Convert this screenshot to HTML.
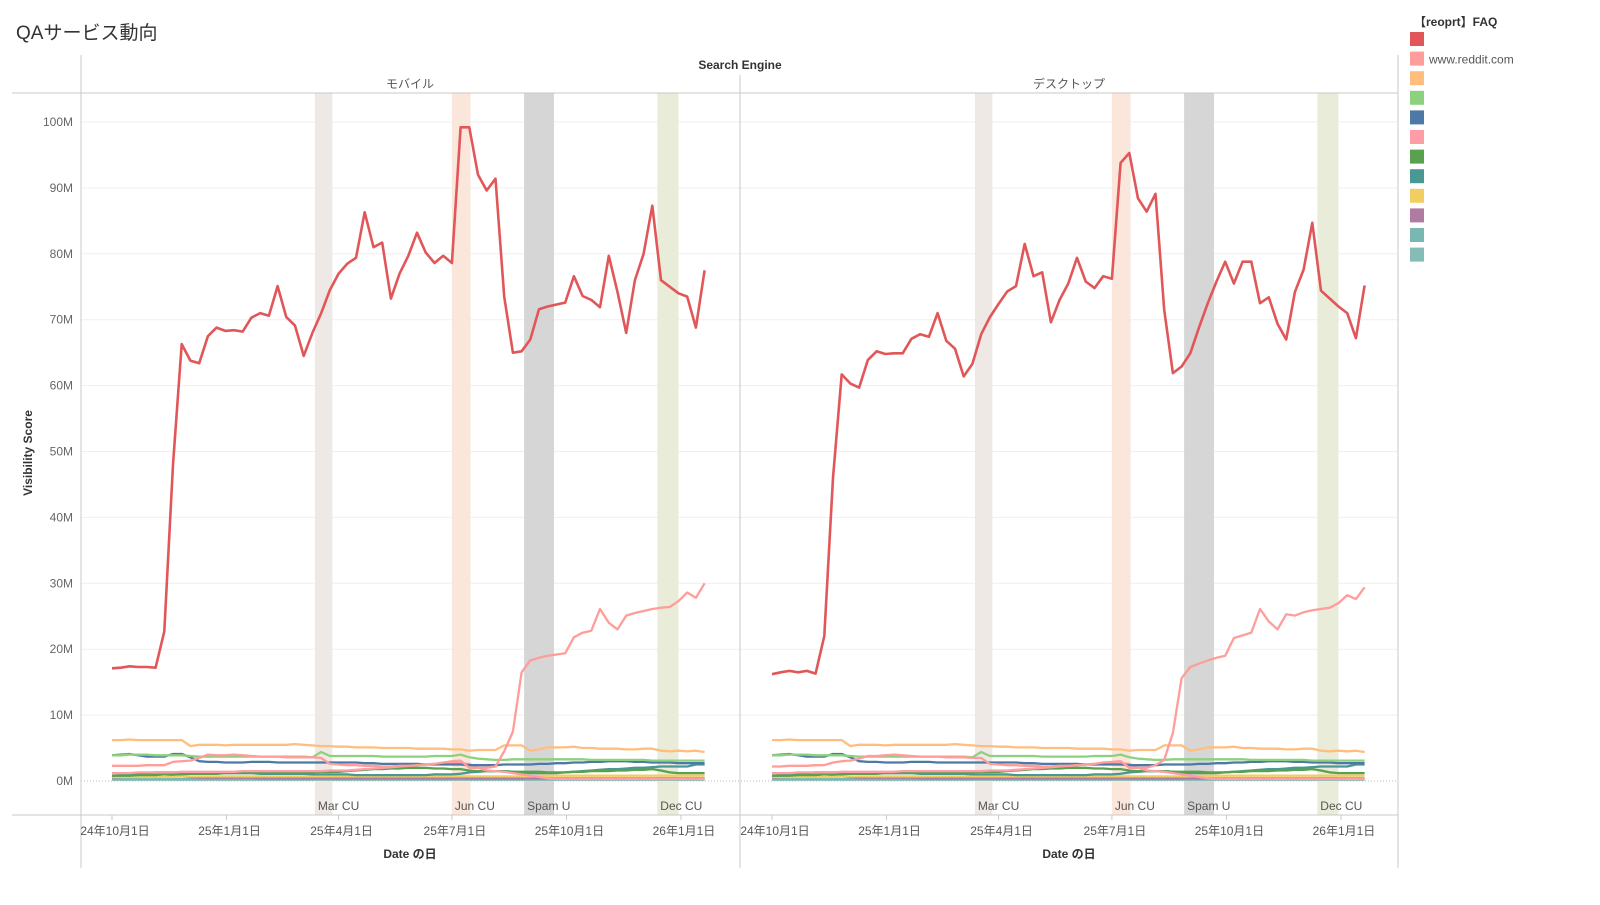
<!DOCTYPE html>
<html><head><meta charset="utf-8"><style>
body{margin:0;background:#fff;width:1600px;height:900px;overflow:hidden;font-family:"Liberation Sans","Noto Sans CJK JP",sans-serif}
svg text{font-family:"Liberation Sans","Noto Sans CJK JP",sans-serif}
</style></head><body>
<svg id="chart" width="1600" height="900" xmlns="http://www.w3.org/2000/svg">
<text x="16" y="39" font-size="19" fill="#333">QAサービス動向</text>
<text x="740" y="69" font-size="12" font-weight="bold" text-anchor="middle" fill="#333">Search Engine</text>
<text x="410" y="88" font-size="12" text-anchor="middle" fill="#555">モバイル</text>
<text x="1069" y="88" font-size="12" text-anchor="middle" fill="#555">デスクトップ</text>
<text transform="translate(32,453) rotate(-90)" font-size="12" font-weight="bold" text-anchor="middle" fill="#333">Visibility Score</text>
<g id="grid"></g>
<g id="bands"></g>
<g id="series"></g>
<g id="frame">
<line x1="12" y1="93" x2="1398" y2="93" stroke="#c8c8c8"/>
<line x1="12" y1="815" x2="1398" y2="815" stroke="#c8c8c8"/>
<line x1="81" y1="55" x2="81" y2="868" stroke="#c8c8c8"/>
<line x1="740" y1="75" x2="740" y2="868" stroke="#c8c8c8"/>
<line x1="1398" y1="55" x2="1398" y2="868" stroke="#c8c8c8"/>
</g>
<g id="axes"></g>
<text x="410" y="858" font-size="12" font-weight="bold" text-anchor="middle" fill="#333">Date の日</text>
<text x="1069" y="858" font-size="12" font-weight="bold" text-anchor="middle" fill="#333">Date の日</text>
<g id="legend">
<text x="1414" y="26" font-size="12" font-weight="bold" fill="#333">【reoprt】FAQ</text>
</g>
</svg>
<script>
const yTicks=[0,10,20,30,40,50,60,70,80,90,100];
const xTickDays=[0,92,182,273,365,457];
const xTickLabels=["24年10月1日","25年1月1日","25年4月1日","25年7月1日","25年10月1日","26年1月1日"];
const bandStart=[163,273,331,438];
const bandEnd=[177,288,355,455];
const bandLabels=["Mar CU","Jun CU","Spam U","Dec CU"];
const bandColors=["#efe9e6","#fbe6dc","#d6d6d6","#e8ecd9"];
const mobileRed=[17.1,17.2,17.4,17.3,17.3,17.2,22.7,48,66.3,63.8,63.4,67.5,68.8,68.3,68.4,68.2,70.3,71.0,70.6,75.1,70.4,69.1,64.5,68,71,74.5,77,78.5,79.4,86.3,81,81.7,73.2,77,79.7,83.2,80.2,78.6,79.7,78.6,99.2,99.2,92,89.6,91.4,73.5,65,65.2,67,71.6,72,72.3,72.6,76.6,73.6,73,71.9,79.7,74.2,68,76,80,87.3,76,75,74,73.5,68.8,77.5];
const desktopRed=[16.2,16.5,16.7,16.5,16.7,16.3,22,46,61.7,60.3,59.7,63.9,65.2,64.8,64.9,64.9,67.1,67.8,67.4,71,66.8,65.6,61.4,63.3,67.8,70.4,72.4,74.3,75.1,81.5,76.6,77.2,69.6,73,75.5,79.4,75.8,74.8,76.6,76.2,93.8,95.3,88.4,86.4,89.1,71.5,61.9,62.9,64.9,68.8,72.5,75.8,78.8,75.5,78.8,78.8,72.5,73.4,69.4,67,74.2,77.6,84.7,74.4,73.2,72,71,67.2,75.2];
const mobileReddit=[2.3,2.3,2.3,2.3,2.4,2.4,2.4,2.9,3.0,3.1,3.5,4.0,3.9,3.9,4.0,3.9,3.8,3.7,3.7,3.7,3.6,3.6,3.6,3.6,3.5,2.6,2.5,2.4,2.4,2.3,2.3,2.2,2.2,2.3,2.3,2.4,2.5,2.6,2.8,3.0,3.1,2.0,2.0,2.0,2.2,4.5,7.5,16.5,18.3,18.7,19,19.2,19.4,21.8,22.5,22.8,26.1,24,23,25.1,25.5,25.8,26.1,26.3,26.4,27.3,28.6,27.8,30];
const desktopReddit=[2.2,2.2,2.3,2.3,2.3,2.4,2.4,2.8,3.0,3.1,3.4,3.8,3.8,3.9,4.0,3.9,3.8,3.7,3.7,3.7,3.6,3.6,3.6,3.5,3.5,2.6,2.5,2.4,2.4,2.3,2.3,2.2,2.2,2.3,2.3,2.4,2.5,2.6,2.8,2.9,3.0,2.0,2.0,2.0,2.4,3.2,7.3,15.6,17.3,17.8,18.3,18.7,19,21.7,22.1,22.5,26.1,24.2,23,25.3,25.1,25.6,25.9,26.1,26.3,27,28.2,27.6,29.4];
const pinkB=[1.2,1.2,1.2,1.3,1.3,1.3,1.3,1.3,1.4,1.4,1.4,1.4,1.4,1.4,1.4,1.5,1.5,1.5,1.5,1.5,1.5,1.5,1.5,1.5,1.5,1.6,1.6,1.6,1.7,1.8,1.9,2.0,2.1,2.2,2.3,2.4,2.5,2.6,2.6,2.7,2.7,2.6,2.0,1.6,1.5,1.4,1.2,1.0,0.8,0.6,0.4,0.3,0.3,0.3,0.3,0.3,0.3,0.3,0.3,0.3,0.3,0.3,0.3,0.3,0.3,0.3,0.3,0.3,0.3];
const orange=[6.2,6.2,6.3,6.2,6.2,6.2,6.2,6.2,6.2,5.3,5.5,5.5,5.5,5.4,5.5,5.5,5.5,5.5,5.5,5.5,5.5,5.6,5.5,5.4,5.3,5.3,5.2,5.2,5.1,5.1,5.1,5.0,5.0,5.0,5.0,4.9,4.9,4.9,4.9,4.8,4.8,4.6,4.7,4.7,4.7,5.4,5.4,5.4,4.6,4.8,5.1,5.1,5.1,5.2,5.0,5.0,4.9,4.9,4.9,4.8,4.8,4.9,4.9,4.6,4.5,4.6,4.5,4.6,4.4];
const lightGreen=[3.9,3.9,4.0,4.0,4.0,3.9,3.9,3.9,3.9,3.8,3.7,3.7,3.7,3.7,3.7,3.7,3.7,3.7,3.7,3.7,3.7,3.7,3.7,3.6,4.4,3.8,3.8,3.8,3.8,3.8,3.8,3.7,3.7,3.7,3.7,3.7,3.7,3.8,3.8,3.8,4.0,3.6,3.4,3.3,3.2,3.2,3.3,3.3,3.3,3.3,3.3,3.3,3.3,3.3,3.3,3.2,3.2,3.2,3.2,3.2,3.2,3.2,3.1,3.1,3.1,3.1,3.1,3.1,3.1];
const blue=[3.9,4.0,4.1,3.9,3.7,3.7,3.7,4.1,4.1,3.6,3.0,2.9,2.9,2.8,2.8,2.8,2.9,2.9,2.9,2.8,2.8,2.8,2.8,2.8,2.8,2.8,2.8,2.8,2.8,2.7,2.7,2.6,2.6,2.6,2.6,2.6,2.5,2.5,2.5,2.5,2.5,2.4,2.4,2.4,2.4,2.5,2.5,2.5,2.5,2.6,2.6,2.7,2.7,2.8,2.8,2.9,2.9,3.0,3.0,3.0,2.9,2.9,2.8,2.8,2.8,2.7,2.7,2.7,2.7];
const darkGreen=[0.8,0.8,0.8,0.9,0.9,0.9,1.0,1.0,1.0,1.1,1.1,1.1,1.1,1.2,1.2,1.2,1.2,1.2,1.3,1.3,1.3,1.3,1.3,1.3,1.4,1.4,1.4,1.5,1.6,1.7,1.8,1.8,1.9,1.9,2.0,2.0,2.0,1.9,1.9,1.8,1.8,1.6,1.5,1.5,1.5,1.5,1.4,1.4,1.4,1.4,1.3,1.3,1.3,1.4,1.4,1.5,1.5,1.5,1.6,1.6,1.7,1.7,1.8,1.6,1.3,1.2,1.2,1.2,1.2];
const teal=[0.8,0.9,1.0,1.1,1.2,1.3,1.3,1.3,1.2,1.2,1.2,1.2,1.2,1.2,1.2,1.2,1.2,1.1,1.1,1.1,1.1,1.1,1.1,1.0,1.0,1.0,1.0,1.0,0.9,0.9,0.9,0.9,0.9,0.9,0.9,0.9,0.9,1.0,1.0,1.0,1.1,1.3,1.4,1.5,1.5,1.5,1.4,1.3,1.2,1.2,1.2,1.2,1.3,1.4,1.5,1.6,1.7,1.8,1.8,1.9,2.0,2.0,2.1,2.2,2.2,2.2,2.2,2.5,2.5];
const yellow=[0.6,0.6,0.6,0.6,0.6,0.6,0.6,0.6,0.7,0.7,0.7,0.7,0.7,0.7,0.7,0.7,0.7,0.7,0.7,0.7,0.7,0.7,0.7,0.7,0.7,0.7,0.7,0.7,0.7,0.7,0.7,0.7,0.7,0.7,0.7,0.7,0.7,0.7,0.7,0.7,0.7,0.7,0.7,0.7,0.7,0.7,0.7,0.7,0.7,0.8,0.8,0.8,0.8,0.8,0.8,0.8,0.8,0.8,0.8,0.8,0.8,0.8,0.8,0.8,0.8,0.8,0.8,0.8,0.8];
const purple=[0.5,0.6,0.7,0.8,0.9,1.0,1.0,0.9,0.7,0.6,0.5,0.5,0.5,0.5,0.5,0.5,0.5,0.4,0.4,0.4,0.4,0.4,0.4,0.4,0.4,0.4,0.4,0.4,0.4,0.4,0.4,0.4,0.4,0.4,0.4,0.4,0.4,0.4,0.4,0.4,0.4,0.4,0.4,0.4,0.4,0.4,0.4,0.4,0.4,0.4,0.4,0.4,0.4,0.4,0.4,0.4,0.4,0.4,0.4,0.4,0.4,0.4,0.4,0.4,0.4,0.4,0.4,0.4,0.4];
const tealLight=[0.3,0.3,0.3,0.3,0.3,0.3,0.3,0.3,0.3,0.3,0.3,0.3,0.3,0.3,0.3,0.3,0.3,0.3,0.3,0.3,0.3,0.3,0.3,0.3,0.3,0.3,0.3,0.3,0.3,0.3,0.3,0.3,0.3,0.3,0.3,0.3,0.3,0.3,0.3,0.3,0.3,0.3,0.3,0.3,0.3,0.3,0.3,0.3,0.3,0.3,0.3,0.3,0.3,0.3,0.3,0.3,0.3,0.3,0.3,0.3,0.3,0.3,0.3,0.3,0.3,0.3,0.3,0.3,0.3];
const tealPale=[0.2,0.2,0.2,0.2,0.2,0.2,0.2,0.2,0.2,0.2,0.2,0.2,0.2,0.2,0.2,0.2,0.2,0.2,0.2,0.2,0.2,0.2,0.2,0.2,0.2,0.2,0.2,0.2,0.2,0.2,0.2,0.2,0.2,0.2,0.2,0.2,0.2,0.2,0.2,0.2,0.2,0.2,0.2,0.2,0.2,0.2,0.2,0.2,0.2,0.2,0.2,0.2,0.2,0.2,0.2,0.2,0.2,0.2,0.2,0.2,0.2,0.2,0.2,0.2,0.2,0.2,0.2,0.2,0.2];
const legendLabels=["","www.reddit.com","","","","","","","","","",""];
const legendColors=["#e15759","#ff9d9a","#ffbe7d","#8cd17d","#4e79a7","#ff9da7","#59a14f","#499894","#f1ce63","#b07aa1","#79b7b2","#86bcb6"];

const NS="http://www.w3.org/2000/svg";
const panels=[{off:0,name:"mobile",red:mobileRed,reddit:mobileReddit},{off:660,name:"desktop",red:desktopRed,reddit:desktopReddit}];
function yScale(v){return 781-v*6.59;}
function xScale(day,off){return 112+off+day*1.245;}
function mk(tag,attrs,parent){const e=document.createElementNS(NS,tag);for(const k in attrs)e.setAttribute(k,attrs[k]);parent.appendChild(e);return e;}
const grid=document.getElementById('grid'),bands=document.getElementById('bands'),series=document.getElementById('series'),axes=document.getElementById('axes'),legend=document.getElementById('legend');

yTicks.forEach(t=>{
  if(t>0){const l=mk('line',{x1:81,x2:1398,y1:yScale(t),y2:yScale(t),stroke:'#efefef'},grid);
  
  }
  const tx=mk('text',{x:73,y:yScale(t)+4,'font-size':12,'text-anchor':'end',fill:'#666'},axes);
  tx.textContent=t+'M';
  
  
});
const zl=mk('line',{x1:81,x2:1398,y1:yScale(0),y2:yScale(0),stroke:'#bbb','stroke-dasharray':'1,2'},grid);



panels.forEach(p=>{
  bandStart.forEach((s,i)=>{
    const x0=xScale(s,p.off),x1=xScale(bandEnd[i],p.off);
    const r=mk('rect',{x:x0,y:93,width:x1-x0,height:722,fill:bandColors[i]},bands);
    
    
    const t=mk('text',{x:x0+3,y:810,'font-size':12,fill:'#555'},bands);
    t.textContent=bandLabels[i];
    
    
  });
  xTickDays.forEach((d,i)=>{
    const x=xScale(d,p.off);
    const tk=mk('line',{x1:x,x2:x,y1:815,y2:820,stroke:'#c8c8c8'},axes);
    
    
    const t=mk('text',{x:x+3,y:835,'font-size':12,'text-anchor':'middle',fill:'#555'},axes);
    t.textContent=xTickLabels[i];
    
    
  });
  const list=[[tealPale,11],[tealLight,10],[purple,9],[yellow,8],[teal,7],[darkGreen,6],[pinkB,5],[blue,4],[lightGreen,3],[orange,2],[p.reddit,1],[p.red,0]];
  list.forEach(([arr,ci])=>{
    const pts=arr.map((v,i)=>xScale(i*7,p.off).toFixed(1)+','+yScale(v).toFixed(1)).join(' ');
    const pl=mk('polyline',{points:pts,fill:'none',stroke:legendColors[ci],'stroke-width':ci===0?2.6:2.3,'stroke-linejoin':'round'},series);
    
    
  });
});

legendColors.forEach((c,i)=>{
  const y=32+i*19.6;
  const r=mk('rect',{x:1410,y:y,width:14,height:14,fill:c},legend);
  
  
  if(legendLabels[i]){const t=mk('text',{x:1429,y:y+12,'font-size':12,fill:'#555'},legend);
  t.textContent=legendLabels[i];
  
  }
});
</script>
</body></html>
